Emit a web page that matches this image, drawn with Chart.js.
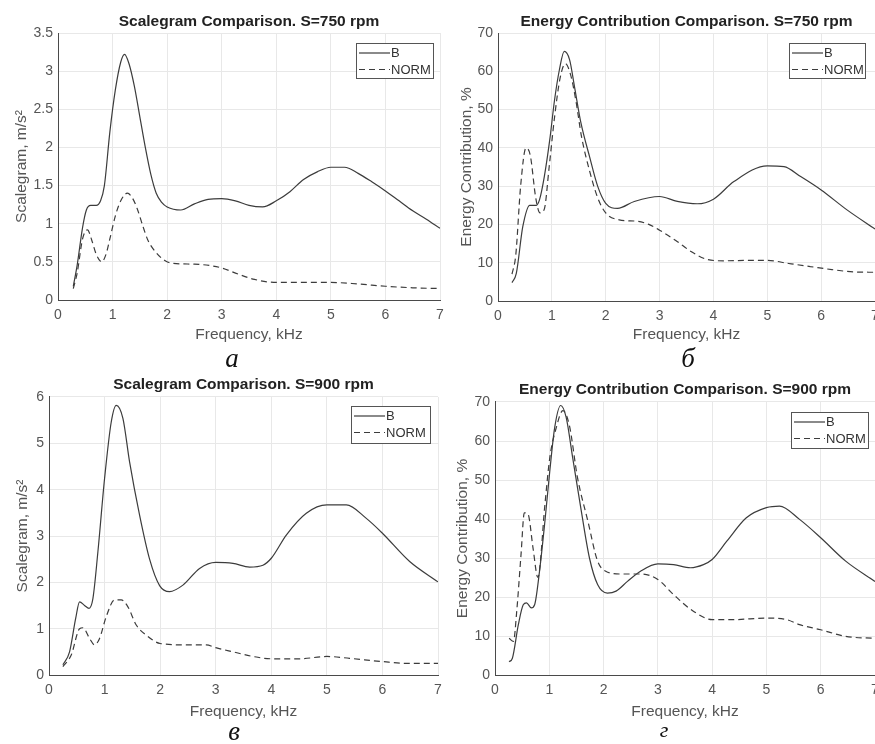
<!DOCTYPE html>
<html>
<head>
<meta charset="utf-8">
<script src="https://cdn.jsdelivr.net/npm/chart.js@4.4.1/dist/chart.umd.min.js"></script>
<style>
  body { margin: 0; width: 875px; height: 744px; overflow: hidden; background: #fff; position: relative; }
  .panel { position: absolute; }
  .cap { position: absolute; font-family: "Liberation Serif", serif; font-style: italic; font-size: 27px; color: #111; width: 40px; text-align: center; line-height: 27px; }
</style>
</head>
<body>
<div class="panel" style="left:0;top:0"><canvas id="chA" width="470" height="372"></canvas></div>
<div class="panel" style="left:435px;top:0"><canvas id="chB" width="470" height="372"></canvas></div>
<div class="panel" style="left:0;top:372px"><canvas id="chC" width="470" height="372"></canvas></div>
<div class="panel" style="left:435px;top:372px"><canvas id="chD" width="470" height="372"></canvas></div>
<div class="cap" style="left:212px;top:345px">а</div>
<div class="cap" style="left:668px;top:345px">б</div>
<div class="cap" style="left:214px;top:718px">в</div>
<div class="cap" style="left:644px;top:719px;font-size:22px;line-height:22px">г</div>
<script>
// ---- data ----
let xTicks = [0, 1, 2, 3, 4, 5, 6, 7];

// a: scalegram, 750 rpm
let aFreqB = [0.28,0.35,0.45,0.52,0.6,0.7,0.78,0.85,0.95,1.05,1.15,1.22,1.3,1.4,1.5,1.6,1.7,1.8,1.9,2.0,2.25,2.5,2.75,3.0,3.25,3.5,3.75,4.0,4.25,4.5,4.75,5.0,5.25,5.5,5.75,6.0,6.25,6.5,6.75,7.0];
let aValB  = [0.18,0.45,0.95,1.18,1.24,1.24,1.3,1.5,2.2,2.75,3.12,3.22,3.1,2.8,2.4,2.0,1.65,1.4,1.28,1.22,1.18,1.26,1.32,1.33,1.3,1.24,1.22,1.3,1.42,1.58,1.68,1.74,1.74,1.66,1.55,1.43,1.3,1.17,1.06,0.94];
let aFreqN = [0.28,0.35,0.45,0.54,0.62,0.7,0.8,0.88,0.95,1.05,1.15,1.27,1.36,1.45,1.55,1.65,1.8,1.95,2.1,2.5,2.8,3.0,3.3,3.6,4.0,4.5,5.0,5.5,6.0,6.5,7.0];
let aValN  = [0.15,0.35,0.8,0.92,0.78,0.6,0.5,0.6,0.8,1.1,1.3,1.4,1.34,1.2,0.98,0.78,0.62,0.52,0.48,0.47,0.45,0.42,0.34,0.27,0.23,0.23,0.23,0.21,0.18,0.16,0.15];
let aTicksY = [0, 0.5, 1, 1.5, 2, 2.5, 3, 3.5];

// b: energy contribution, 750 rpm
let bFreqB = [0.26,0.34,0.46,0.59,0.71,0.77,0.86,0.96,1.05,1.14,1.23,1.33,1.42,1.54,1.7,1.85,2.0,2.22,2.53,3.0,3.33,3.7,4.0,4.38,5.0,5.31,5.62,6.0,6.48,7.0];
let bValB  = [4.8,7.2,19.4,25,25,26.4,32.5,42,52.5,60.4,65.2,63,56,46.5,37.7,30,25.5,24.2,26,27.3,26,25.4,26.6,31.2,35.3,35.1,32.5,29,23.8,18.8];
let bFreqN = [0.26,0.33,0.42,0.52,0.6,0.7,0.78,0.86,0.95,1.05,1.15,1.25,1.35,1.45,1.55,1.7,1.85,2.0,2.25,2.6,2.8,3.0,3.3,3.6,3.9,4.2,4.6,5.0,5.4,5.8,6.2,6.6,7.0];
let bValN  = [7,12,30,40,38,27,23,24,35,48,58,62,59,52,43,34,27,23,21.2,20.8,20,18.5,15.8,12.8,10.8,10.5,10.6,10.6,9.8,9,8.2,7.6,7.5];
let bTicksY = [0, 10, 20, 30, 40, 50, 60, 70];

// c: scalegram, 900 rpm
let cFreqB = [0.25,0.37,0.48,0.55,0.64,0.72,0.79,0.88,1.0,1.12,1.21,1.33,1.45,1.63,1.81,1.99,2.17,2.41,2.71,3.0,3.31,3.61,3.85,4.0,4.27,4.63,5.0,5.35,5.71,6.0,6.49,7.0];
let cValB  = [0.22,0.5,1.22,1.58,1.5,1.44,1.65,2.66,4.24,5.46,5.82,5.54,4.6,3.45,2.5,1.93,1.8,1.94,2.3,2.43,2.41,2.33,2.37,2.52,3.02,3.49,3.67,3.67,3.38,3.06,2.45,2.01];
let cFreqN = [0.25,0.4,0.55,0.61,0.73,0.82,0.91,1.03,1.18,1.3,1.42,1.57,1.75,2.0,2.47,2.83,3.0,3.31,3.67,4.0,4.51,5.0,5.41,6.0,6.49,7.0];
let cValN  = [0.18,0.43,1.0,1.02,0.79,0.65,0.79,1.26,1.62,1.62,1.47,1.08,0.86,0.68,0.65,0.65,0.59,0.5,0.4,0.35,0.35,0.4,0.36,0.29,0.25,0.25];
let cTicksY = [0, 1, 2, 3, 4, 5, 6];

// d: energy contribution, 900 rpm
let dFreqB = [0.26,0.32,0.43,0.52,0.58,0.67,0.73,0.82,0.92,1.01,1.1,1.21,1.31,1.43,1.59,1.74,1.89,2.07,2.23,2.44,2.68,3.0,3.29,3.6,3.84,4.0,4.27,4.63,5.0,5.24,5.61,6.0,6.46,7.0];
let dValB  = [3.4,4.3,12.9,18,18.5,17.2,18,26.6,39.5,52.4,63.5,69.1,66.1,55.8,42,30,23.2,21,21.5,24,26.6,28.5,28.3,27.5,28.3,29.6,34.3,40.3,42.9,43.3,39.9,35.2,29.2,24];
let dFreqN = [0.26,0.34,0.4,0.48,0.54,0.61,0.7,0.79,0.92,1.01,1.13,1.25,1.37,1.52,1.71,1.89,2.04,2.32,2.68,3.0,3.29,3.66,4.0,4.39,5.0,5.37,5.61,6.0,6.46,7.0];
let dValN  = [9.4,8.6,16.3,31,41.6,41.2,32.6,25,43.8,55.8,63.5,67.8,64,50.6,39.5,29.2,26.6,25.9,25.9,24.5,20.6,16.3,14.2,14.2,14.6,14.2,12.9,11.6,9.9,9.4];
let dTicksY = [0, 10, 20, 30, 40, 50, 60, 70];

let seriesNames = ["B", "NORM"];

// ---- drawing ----
let lineColor = "#3c3c3c";
let dash = [6, 4];
let fontFam = "'Liberation Sans', Arial, sans-serif";

function pts(xs, ys) {
    return xs.map((x, i) => ({x: x, y: ys[i]}));
}

// legend box drawn inside the axes, like matlab's "northeast"
let insideLegend = {
    id: "insideLegend",
    afterDraw(chart, args, o) {
        let ctx = chart.ctx;
        let x = o.x, y = o.y, w = o.w, h = o.h;
        ctx.save();
        ctx.fillStyle = "#fff";
        ctx.fillRect(x, y, w, h);
        ctx.strokeStyle = "#555";
        ctx.lineWidth = 1;
        ctx.setLineDash([]);
        ctx.strokeRect(x + 0.5, y + 0.5, w, h);
        ctx.font = "13px " + fontFam;
        ctx.textBaseline = "middle";
        ctx.fillStyle = "#333";
        seriesNames.forEach((name, i) => {
            let ly = y + 10 + i * 16.5;
            ctx.strokeStyle = lineColor;
            ctx.lineWidth = 1.2;
            ctx.setLineDash(i == 1 ? dash : []);
            ctx.beginPath();
            ctx.moveTo(x + 3, ly);
            ctx.lineTo(x + 34, ly);
            ctx.stroke();
            ctx.fillText(name, x + 35, ly + 0.5);
        });
        ctx.restore();
    }
};

function makeChart(id, cfg) {
    let ctx = document.getElementById(id).getContext("2d");
    return new Chart(ctx, {
        type: "line",
        data: {
            datasets: [{
                label: seriesNames[0],
                data: pts(cfg.fb, cfg.vb),
                borderColor: lineColor,
                borderWidth: 1.2,
                pointRadius: 0,
                cubicInterpolationMode: "monotone"
            }, {
                label: seriesNames[1],
                data: pts(cfg.fn, cfg.vn),
                borderColor: lineColor,
                borderWidth: 1.2,
                borderDash: dash,
                pointRadius: 0,
                cubicInterpolationMode: "monotone"
            }]
        },
        options: {
            responsive: false,
            animation: false,
            layout: {padding: {left: 0, right: 470 - cfg.right, top: 0, bottom: 372 - cfg.bottom - 50}},
            plugins: {
                legend: {display: false},
                tooltip: {enabled: false},
                title: {
                    display: true,
                    text: cfg.title,
                    fullSize: false,
                    color: "#222",
                    font: {family: fontFam, size: 15.5, weight: "bold"},
                    padding: {top: cfg.titleCy - 9.3, bottom: cfg.top - cfg.titleCy - 9.3}
                },
                insideLegend: cfg.legend
            },
            scales: {
                x: {
                    type: "linear",
                    min: 0, max: 7,
                    afterFit: s => { s.height = 50; },
                    afterBuildTicks: s => { s.ticks = xTicks.map(v => ({value: v})); },
                    grid: {color: "#e8e8e8", drawTicks: false},
                    border: {color: "#4a4a4a", width: 1},
                    ticks: {
                        padding: 7, color: "#555", maxRotation: 0,
                        font: {family: fontFam, size: 14},
                        callback: v => String(v)
                    },
                    title: {
                        display: true, text: "Frequency, kHz", color: "#555",
                        font: {family: fontFam, size: 15.5},
                        padding: {top: 0, bottom: 40.7 - cfg.xTitleOff}
                    }
                },
                y: {
                    min: cfg.ticksY[0], max: cfg.ticksY[cfg.ticksY.length - 1],
                    afterFit: s => { s.width = cfg.left; },
                    afterBuildTicks: s => { s.ticks = cfg.ticksY.map(v => ({value: v})); },
                    grid: {color: "#e8e8e8", drawTicks: false},
                    border: {color: "#4a4a4a", width: 1},
                    ticks: {
                        padding: 5, color: "#555",
                        font: {family: fontFam, size: 14},
                        callback: v => String(v)
                    },
                    title: {
                        display: true, text: cfg.yTitle, color: "#555",
                        font: {family: fontFam, size: 15.5},
                        padding: {top: cfg.yTitleX - 9.3, bottom: 0}
                    }
                }
            }
        },
        plugins: [insideLegend]
    });
}

makeChart("chA", {
    title: "Scalegram Comparison. S=750 rpm", yTitle: "Scalegram, m/s²",
    fb: aFreqB, vb: aValB, fn: aFreqN, vn: aValN, ticksY: aTicksY,
    left: 58, right: 440, top: 33, bottom: 300, titleCy: 22, yTitleX: 22, xTitleOff: 35,
    legend: {x: 356, y: 43, w: 77, h: 35}
});
makeChart("chB", {
    title: "Energy Contribution Comparison. S=750 rpm", yTitle: "Energy Contribution, %",
    fb: bFreqB, vb: bValB, fn: bFreqN, vn: bValN, ticksY: bTicksY,
    left: 63, right: 440, top: 33, bottom: 301, titleCy: 22, yTitleX: 32, xTitleOff: 34,
    legend: {x: 354, y: 43, w: 76, h: 35}
});
makeChart("chC", {
    title: "Scalegram Comparison. S=900 rpm", yTitle: "Scalegram, m/s²",
    fb: cFreqB, vb: cValB, fn: cFreqN, vn: cValN, ticksY: cTicksY,
    left: 49, right: 438, top: 25, bottom: 303, titleCy: 13, yTitleX: 23, xTitleOff: 37,
    legend: {x: 351, y: 34, w: 79, h: 37}
});
makeChart("chD", {
    title: "Energy Contribution Comparison. S=900 rpm", yTitle: "Energy Contribution, %",
    fb: dFreqB, vb: dValB, fn: dFreqN, vn: dValN, ticksY: dTicksY,
    left: 60, right: 440, top: 30, bottom: 303, titleCy: 18, yTitleX: 28, xTitleOff: 37,
    legend: {x: 356, y: 40, w: 77, h: 36}
});
</script>
</body>
</html>
